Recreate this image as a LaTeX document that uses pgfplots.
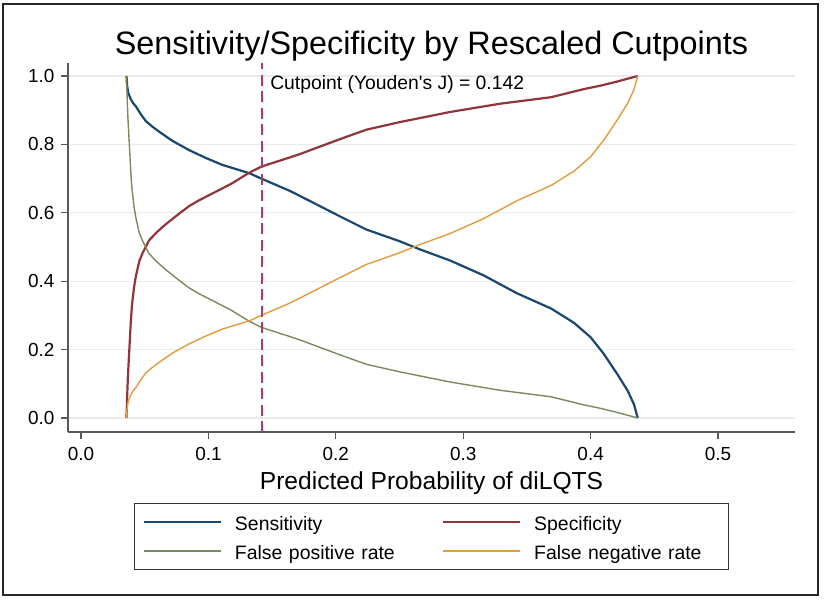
\documentclass[border=0pt]{standalone}
\usepackage{fontspec}
\setmainfont{Liberation Sans}
\usepackage{pgfplots}
\pgfplotsset{compat=1.18}
\usepackage{pgfplotstable}

\definecolor{sensc}{RGB}{26,71,111}
\definecolor{specc}{RGB}{144,53,59}
\definecolor{fprc}{RGB}{122,138,96}
\definecolor{fnrc}{RGB}{229,156,62}
\definecolor{cutc}{RGB}{185,55,95}

% sensitivity and false negative rate (= 1 - sensitivity)
\pgfplotstableread{
x      sens  fnr
0.0357 1.000 0.000
0.0362 0.972 0.028
0.0370 0.952 0.048
0.0390 0.933 0.067
0.0410 0.920 0.080
0.0431 0.911 0.089
0.0470 0.888 0.112
0.0509 0.868 0.132
0.0560 0.852 0.148
0.0614 0.837 0.163
0.0719 0.810 0.190
0.0850 0.783 0.217
0.0982 0.760 0.240
0.1110 0.740 0.260
0.1320 0.716 0.284
0.1415 0.700 0.300
0.1640 0.664 0.336
0.1820 0.630 0.370
0.2030 0.590 0.410
0.2240 0.551 0.449
0.2500 0.517 0.483
0.2660 0.493 0.507
0.2900 0.460 0.540
0.3160 0.417 0.583
0.3420 0.365 0.635
0.3690 0.320 0.680
0.3870 0.278 0.722
0.4000 0.236 0.764
0.4100 0.189 0.811
0.4210 0.128 0.872
0.4290 0.080 0.920
0.4340 0.040 0.960
0.4370 0.000 1.000
}\senstab

% specificity and false positive rate (= 1 - specificity)
\pgfplotstableread{
x      spec  fpr
0.0357 0.000 1.000
0.0362 0.060 0.940
0.0368 0.120 0.880
0.0375 0.170 0.830
0.0383 0.225 0.775
0.0390 0.275 0.725
0.0400 0.330 0.670
0.0417 0.384 0.616
0.0431 0.415 0.585
0.0457 0.458 0.542
0.0483 0.482 0.518
0.0535 0.520 0.480
0.0600 0.545 0.455
0.0667 0.567 0.433
0.0772 0.598 0.402
0.0850 0.620 0.380
0.0929 0.637 0.363
0.1060 0.662 0.338
0.1180 0.685 0.315
0.1320 0.717 0.283
0.1415 0.735 0.265
0.1640 0.762 0.238
0.1720 0.772 0.228
0.2030 0.815 0.185
0.2240 0.843 0.157
0.2500 0.865 0.135
0.2900 0.895 0.105
0.3290 0.919 0.081
0.3690 0.938 0.062
0.3950 0.962 0.038
0.4080 0.972 0.028
0.4200 0.983 0.017
0.4370 1.000 0.000
}\spectab

\begin{document}
\begin{tikzpicture}
\path[use as bounding box] (0,0) rectangle (825bp,-600bp);
\fill[white] (0,0) rectangle (825bp,-600bp);
\draw[line width=1.6bp, black!85] (3bp,-4bp) rectangle (818bp,-595bp);
\begin{axis}[
  at={(68bp,-432bp)}, anchor=south west,
  scale only axis, width=727bp, height=369bp,
  xmin=-0.0102, xmax=0.5604, ymin=-0.041, ymax=1.038,
  axis x line*=bottom, axis y line*=left,
  axis line style={line width=1.2bp, black!65, -},
  xtick={0,0.1,0.2,0.3,0.4,0.5},
  ytick={0,0.2,0.4,0.6,0.8,1},
  tick align=outside, major tick length=7bp,
  tick style={line width=1.2bp, black!65},
  ticklabel style={font=\fontsize{19}{22}\selectfont},
  xticklabel style={yshift=-5bp},
  yticklabel style={xshift=-3bp},
  /pgf/number format/.cd, fixed, fixed zerofill, precision=1, assume math mode=true,
  /pgfplots/.cd,
  ymajorgrids, grid style={line width=1.2bp, black!8},
  title={Sensitivity/Specificity by Rescaled Cutpoints},
  title style={font=\fontsize{32.5}{38}\selectfont, at={(axis description cs:0.5,1.0081)}, anchor=base},
  xlabel={Predicted Probability of diLQTS},
  xlabel style={font=\fontsize{24.7}{29}\selectfont, at={(axis description cs:0.5,-0.157)}, anchor=base},
  legend columns=2,
  legend cell align=left,
  legend image code/.code={\draw[#1, line cap=butt] (0bp,0bp) -- (77bp,0bp);},
  legend style={at={(0.5,-0.283)}, anchor=center, draw=black!80, line width=1.2bp,
    font=\fontsize{19.5}{23}\selectfont, inner xsep=8bp, inner ysep=4bp,
    nodes={text height=18bp, text depth=0bp, inner ysep=5.5bp, inner xsep=0bp, text width=186bp},
    /tikz/every odd column/.append style={column sep=13bp},
    /tikz/every even column/.append style={column sep=21bp}},
]
\addplot[sensc, line width=2.2bp, line join=round] table[x=x, y=sens] {\senstab};
\addlegendentry{Sensitivity}
\addplot[specc, line width=2.2bp, line join=round] table[x=x, y=spec] {\spectab};
\addlegendentry{Specificity}
\addplot[fprc, line width=1.4bp, line join=round] table[x=x, y=fpr] {\spectab};
\addlegendentry{False positive rate}
\addplot[fnrc, line width=1.4bp, line join=round] table[x=x, y=fnr] {\senstab};
\addlegendentry{False negative rate}
\addplot[cutc, line width=1.8bp, dash pattern=on 11bp off 5.5bp, forget plot] coordinates {(0.142,-0.041) (0.142,1.038)};
\node[anchor=west, inner sep=0pt, font=\fontsize{19.4}{23}\selectfont] at (axis cs:0.1484,0.975) {Cutpoint (Youden\textquotesingle s J) = 0.142};
\end{axis}
\end{tikzpicture}
\end{document}
